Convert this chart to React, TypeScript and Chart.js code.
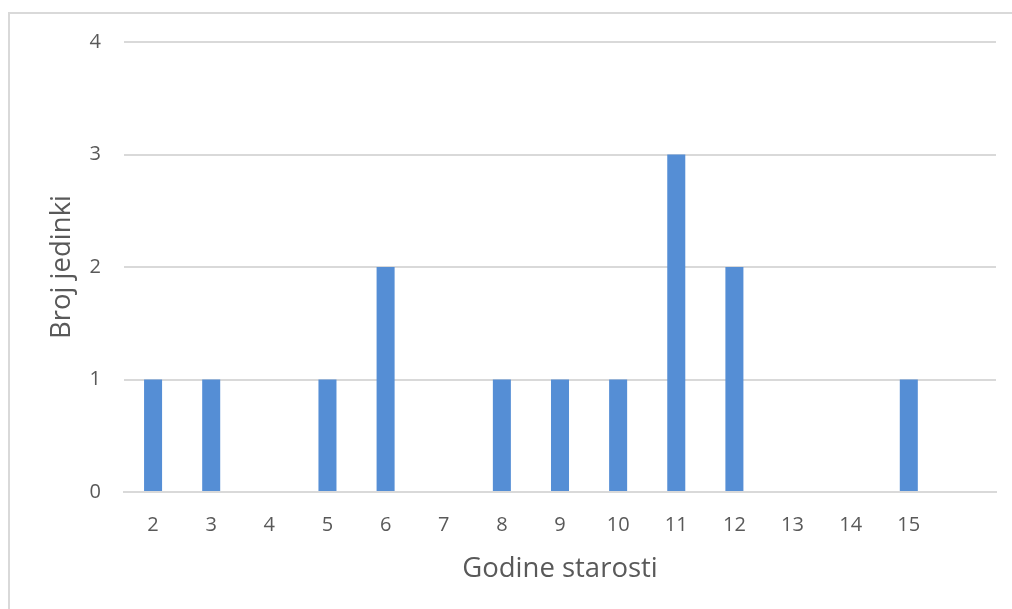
import React, { useEffect, useRef } from "react";
import { Chart, registerables } from "chart.js";

Chart.register(...registerables);

const categories: string[] = ["2", "3", "4", "5", "6", "7", "8", "9", "10", "11", "12", "13", "14", "15", ""];
const counts: (number | null)[] = [1, 1, 0, 1, 2, 0, 1, 1, 1, 3, 2, 0, 0, 1, null];
const yTicks: number[] = [0, 1, 2, 3, 4];
const xTitle = "Godine starosti";
const yTitle = "Broj jedinki";

const FONT = "'Open Sans', sans-serif";
const TEXT = "#595959";
const GRID = "#d9d9d9";

export default function App() {
  const ref = useRef<HTMLCanvasElement | null>(null);

  useEffect(() => {
    if (!ref.current) return;
    const chart = new Chart(ref.current, {
      type: "bar",
      data: {
        labels: categories,
        datasets: [
          {
            data: counts,
            backgroundColor: "#558ED5",
            borderWidth: 0,
            barPercentage: 0.31,
            categoryPercentage: 1,
          },
        ],
      },
      options: {
        animation: false,
        responsive: false,
        maintainAspectRatio: false,
        layout: { padding: { left: 0, right: 14, top: 24, bottom: 0 } },
        plugins: { legend: { display: false }, tooltip: { enabled: false } },
        scales: {
          x: {
            grid: { display: false, drawTicks: false },
            border: { display: true, color: GRID, width: 2 },
            ticks: { color: TEXT, font: { family: FONT, size: 20 }, padding: 21.5, maxRotation: 0, autoSkip: false },
            title: { display: true, text: xTitle, color: TEXT, font: { family: FONT, size: 27.5 }, padding: { top: 0, bottom: 8 } },
            afterFit: (s: any) => { s.height = 102; },
          },
          y: {
            min: 0,
            max: 4,
            afterBuildTicks: (s: any) => { s.ticks = yTicks.map((v) => ({ value: v })); },
            grid: { color: GRID, lineWidth: 2, drawTicks: false },
            border: { display: false },
            ticks: { color: TEXT, font: { family: FONT, size: 20 }, padding: 23 },
            title: { display: true, text: yTitle, color: TEXT, font: { family: FONT, size: 27.5 }, padding: { top: 36, bottom: 0 } },
            afterFit: (s: any) => { s.width = 114; },
          },
        },
      },
    });
    return () => chart.destroy();
  }, []);

  return (
    <div style={{ position: "fixed", left: 0, top: 0, width: 1012, height: 609, overflow: "hidden", background: "#fff" }}>
      <div
        style={{
          position: "absolute",
          left: 8,
          top: 12,
          right: 0,
          bottom: 0,
          borderTop: "2px solid #d9d9d9",
          borderLeft: "2px solid #d9d9d9",
          background: "#fff",
        }}
      />
      <canvas
        ref={ref}
        width={1000}
        height={587}
        style={{ position: "absolute", left: 10, top: 7, display: "block", width: 1000, height: 587 }}
      />
    </div>
  );
}
